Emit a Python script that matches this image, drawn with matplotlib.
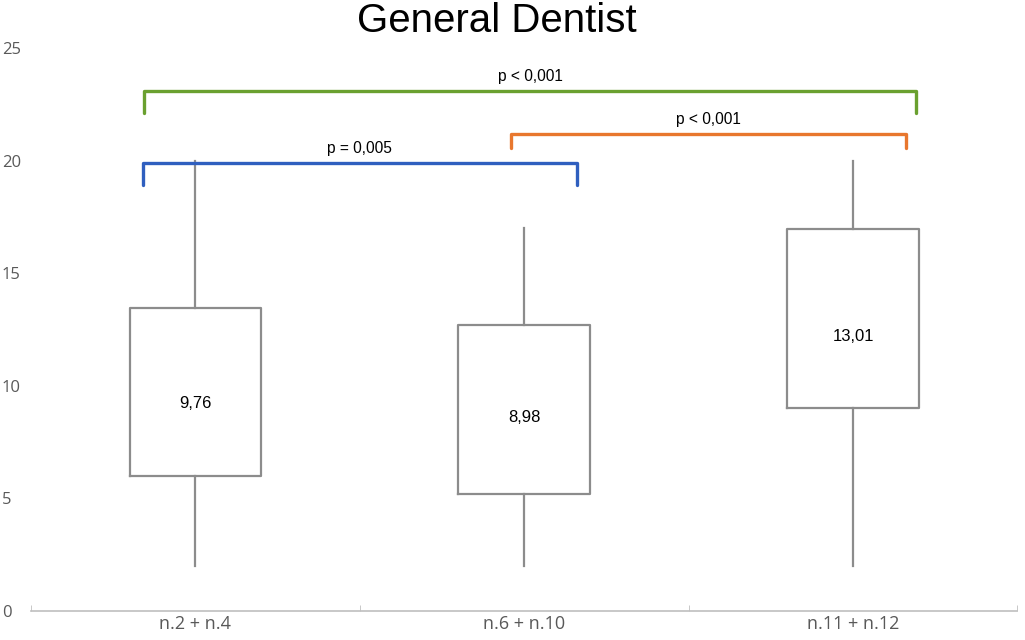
import matplotlib
matplotlib.use('Agg')
import matplotlib.pyplot as plt

plt.rcParams['font.family'] = ['Liberation Sans', 'DejaVu Sans']

# Data
groups = ['n.2 + n.4', 'n.6 + n.10', 'n.11 + n.12']
whisker_low = [2.0, 2.0, 2.0]
q1 = [6.0, 5.2, 9.0]
q3 = [13.45, 12.7, 16.95]
whisker_high = [20.0, 17.0, 20.0]
means = [9.76, 8.98, 13.01]
mean_labels = ['9,76', '8,98', '13,01']
label_y = [9.2, 8.6, 12.2]

# significance brackets
bracket_x = [(-0.16, 1.16), (0.96, 2.16), (-0.155, 2.19)]
bracket_y = [19.9, 21.2, 23.1]
bracket_drop = [1.0, 0.65, 1.0]
p_texts = ['p = 0,005', 'p < 0,001', 'p < 0,001']
p_colors = ['#2f5fbf', '#e8772e', '#6aa02f']

fig = plt.figure(figsize=(10.25, 6.4), dpi=100)
ax = fig.add_axes([31 / 1025, 1 - 611 / 640, 986.5 / 1025, 563 / 640])

stats = []
for i in range(len(groups)):
    stats.append({'whislo': whisker_low[i], 'q1': q1[i], 'med': means[i],
                  'q3': q3[i], 'whishi': whisker_high[i], 'fliers': []})

grey = '#8c8c8c'
ax.bxp(stats, positions=range(len(groups)), widths=0.4, showfliers=False,
       boxprops=dict(color=grey, linewidth=1.6),
       whiskerprops=dict(color=grey, linewidth=1.6),
       capprops=dict(linewidth=0),
       medianprops=dict(linewidth=0))

for i, lab in enumerate(mean_labels):
    ax.text(i, label_y[i], lab, ha='center', va='center', fontsize=12, color='black')

for (x0, x1), y, d, t, c in zip(bracket_x, bracket_y, bracket_drop, p_texts, p_colors):
    ax.plot([x0, x0, x1, x1], [y - d, y, y, y - d], color=c, linewidth=2.4,
            solid_joinstyle='round', solid_capstyle='round', clip_on=False)
    ax.text((x0 + x1) / 2, y + 0.3, t, ha='center', va='bottom', fontsize=11.2, color='black')

ax.set_xlim(-0.5, 2.5)
ax.set_ylim(0, 25)
ax.set_xticks(range(len(groups)))
ax.set_xticklabels(groups, fontfamily='Open Sans')
ax.set_xticks([-0.5, 0.5, 1.5, 2.5], minor=True)
ax.tick_params(axis='x', which='major', length=0, labelsize=13, labelcolor='#595959', pad=3)
ax.tick_params(axis='x', which='minor', length=4, color='#bfbfbf', direction='in')
ax.set_yticks([0, 5, 10, 15, 20, 25])
ax.tick_params(axis='y', length=0, labelsize=12, labelcolor='#595959', pad=21)
for lbl in ax.get_yticklabels():
    lbl.set_horizontalalignment('left')
    lbl.set_fontfamily('Open Sans')
for s in ['top', 'right', 'left']:
    ax.spines[s].set_visible(False)
ax.spines['bottom'].set_color('#bfbfbf')
ax.spines['bottom'].set_linewidth(1.2)

fig.text(497 / 1025, 1 - 21 / 640, 'General Dentist', ha='center', va='center', fontsize=29)

fig.savefig('out.png', dpi=100)
